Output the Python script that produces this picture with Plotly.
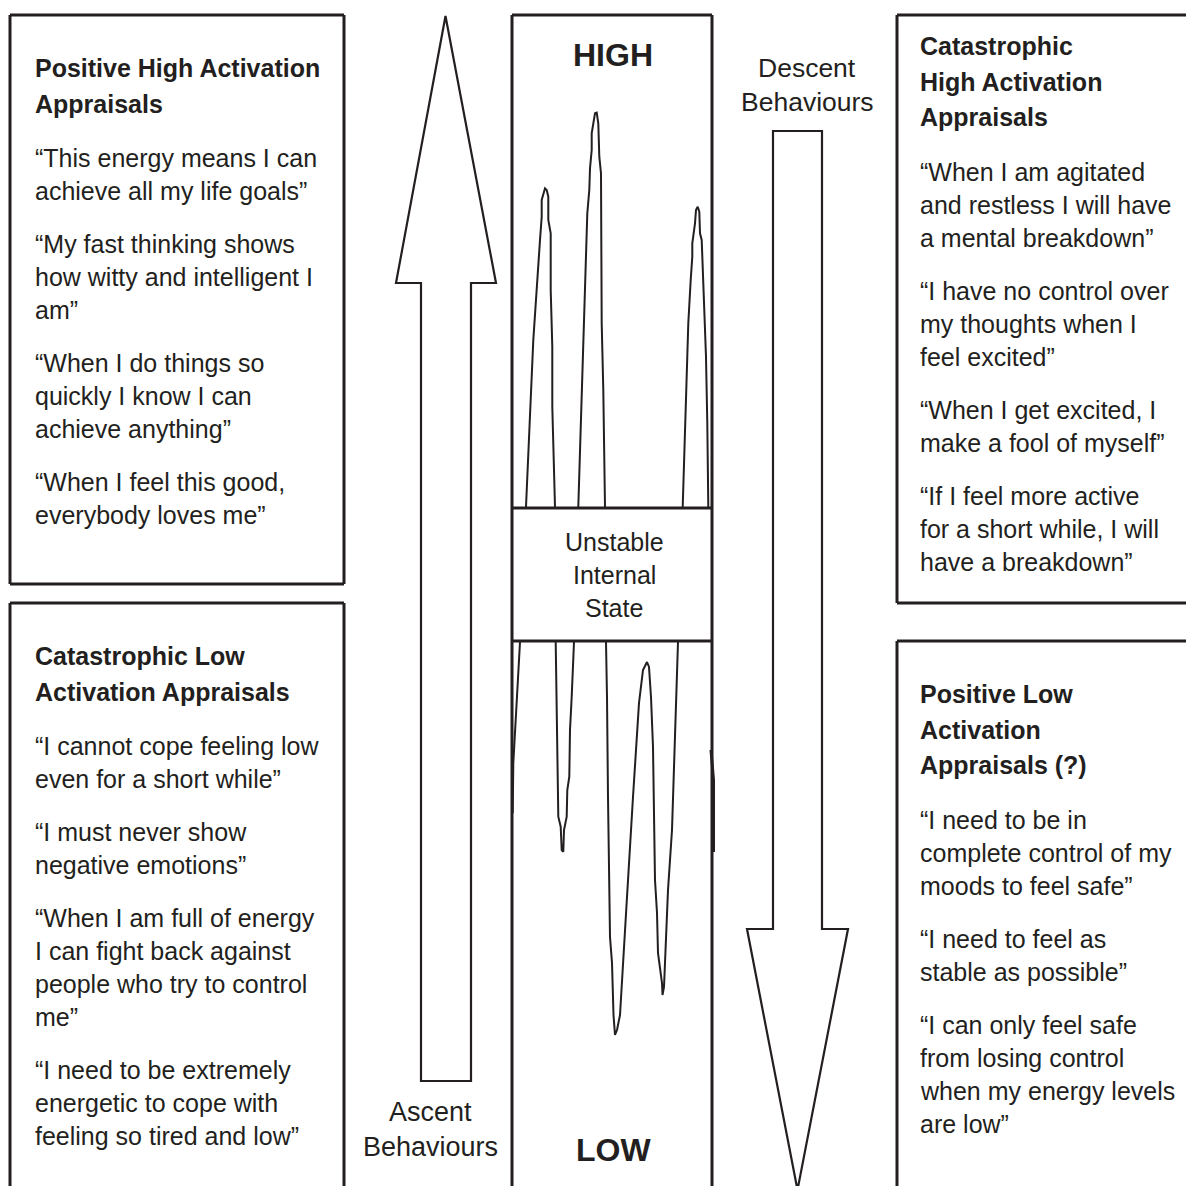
import plotly.graph_objects as go

# ---------------- DATA (text and traced curves) ----------------
left_top_heading = ["Positive High Activation", "Appraisals"]
left_top_quotes = [
    ["“This energy means I can", "achieve all my life goals”"],
    ["“My fast thinking shows", "how witty and intelligent I", "am”"],
    ["“When I do things so", "quickly I know I can", "achieve anything”"],
    ["“When I feel this good,", "everybody loves me”"],
]
left_bottom_heading = ["Catastrophic Low", "Activation Appraisals"]
left_bottom_quotes = [
    ["“I cannot cope feeling low", "even for a short while”"],
    ["“I must never show", "negative emotions”"],
    ["“When I am full of energy", "I can fight back against", "people who try to control", "me”"],
    ["“I need to be extremely", "energetic to cope with", "feeling so tired and low”"],
]
right_top_heading = ["Catastrophic", "High Activation", "Appraisals"]
right_top_quotes = [
    ["“When I am agitated", "and restless I will have", "a mental breakdown”"],
    ["“I have no control over", "my thoughts when I", "feel excited”"],
    ["“When I get excited, I", "make a fool of myself”"],
    ["“If I feel more active", "for a short while, I will", "have a breakdown”"],
]
right_bottom_heading = ["Positive Low", "Activation", "Appraisals (?)"]
right_bottom_quotes = [
    ["“I need to be in", "complete control of my", "moods to feel safe”"],
    ["“I need to feel as", "stable as possible”"],
    ["“I can only feel safe", "from losing control", "when my energy levels", "are low”"],
]
center_top_label = "HIGH"
center_bottom_label = "LOW"
center_mid_label = ["Unstable", "Internal", "State"]
ascent_label = ["Ascent", "Behaviours"]
descent_label = ["Descent", "Behaviours"]

# traced "unstable state" curves (pixel space of the diagram)
peak1_x = [526, 533.3, 540, 541.7, 541.7, 545, 546.7, 548.3, 548.3, 550.7, 550.7, 552.3, 552.3, 555]
peak1_y = [507, 340, 240, 216.7, 200, 188.3, 190, 196.7, 220, 233.3, 290, 346.7, 406.7, 507]
peak2_x = [578.3, 587.3, 589.3, 590, 591.7, 591.7, 595, 596.7, 598.3, 599, 599.3, 601, 601.7, 603.3, 605]
peak2_y = [507, 213.3, 190, 168.3, 150, 133.3, 113.3, 112.7, 123.3, 136.7, 156.7, 173.3, 323.3, 390, 507]
peak3_x = [682.7, 686.7, 688.3, 690.7, 692.3, 692.3, 695, 696, 697.7, 699.3, 700, 701.7, 703.3, 706, 707.3, 708.3]
peak3_y = [507, 390, 323.3, 280, 256.7, 243.3, 223.3, 210, 206.7, 211.7, 233.3, 240, 283.3, 356.7, 423.3, 507]
edge_x = [520, 513.3, 512.7]
edge_y = [642, 763.3, 813.3]
valley1_x = [555.7, 556.7, 558.3, 560.7, 561.7, 563.3, 564, 566.7, 567.3, 569.3, 570, 571.7, 574]
valley1_y = [642, 730, 816.7, 826.7, 850, 851.7, 830, 816.7, 790, 776.7, 730, 696.7, 642]
wave_x = [606, 607, 608, 610, 612, 613, 613.5, 615, 617, 620, 623, 627, 633, 639, 643, 647, 649, 651,
          653, 655, 657, 658, 662, 662.5, 664, 665, 667, 668, 672, 675, 678]
wave_y = [642, 697, 797, 937, 963, 1000, 1015, 1035, 1030, 1015, 960, 897, 797, 703, 670, 662, 667, 697,
          747, 880, 913, 953, 983, 995, 987, 963, 930, 890, 830, 730, 642]
right_edge_x = [711, 713.5, 713.5]
right_edge_y = [750, 780, 852]

# ---------------- STYLE / LAYOUT ----------------
W = H = 1186
INK = "#231f20"
FONT = "Liberation Sans, Arial, Helvetica, sans-serif"
BODY = 25
HEAD = 25

fig = go.Figure()

for xs, ys in [(peak1_x, peak1_y), (peak2_x, peak2_y), (peak3_x, peak3_y), (edge_x, edge_y),
               (valley1_x, valley1_y), (wave_x, wave_y)]:
    fig.add_trace(go.Scatter(x=xs, y=ys, mode="lines", line=dict(color=INK, width=2),
                             hoverinfo="skip", showlegend=False))
fig.add_trace(go.Scatter(x=right_edge_x, y=right_edge_y, mode="lines", line=dict(color=INK, width=3),
                         hoverinfo="skip", showlegend=False))

shapes = []
def seg(x0, y0, x1, y1, w=3):
    shapes.append(dict(type="line", x0=x0, y0=y0, x1=x1, y1=y1, line=dict(color=INK, width=w)))

# left top box
seg(10, 15, 344, 15); seg(10, 584, 344, 584); seg(10, 15, 10, 584); seg(344, 15, 344, 584)
# left bottom box (open at bottom)
seg(10, 603, 344, 603); seg(10, 603, 10, 1200); seg(344, 603, 344, 1200)
# center column
seg(512, 15, 712, 15); seg(512, 15, 512, 1200); seg(712, 15, 712, 1200)
seg(512, 508, 712, 508); seg(512, 641, 712, 641)
# right top box
seg(897, 15, 1200, 15); seg(897, 603, 1200, 603); seg(897, 15, 897, 603)
# right bottom box
seg(897, 641, 1200, 641); seg(897, 641, 897, 1200)

# up arrow
shapes.append(dict(type="path",
                   path="M 421,1081 L 421,283 L 396,283 L 445.5,16 L 496,283 L 471,283 L 471,1081 Z",
                   line=dict(color=INK, width=2.2), fillcolor="white"))
# down arrow
shapes.append(dict(type="path",
                   path="M 773,131 L 773,929 L 747,929 L 797.5,1190 L 848,929 L 822,929 L 822,131 Z",
                   line=dict(color=INK, width=2.2), fillcolor="white"))

annotations = []
def txt(s, x, y, size=BODY, bold=False, anchor="left"):
    annotations.append(dict(x=x, y=y, text=f"<b>{s}</b>" if bold else s, showarrow=False,
                            xanchor=anchor, yanchor="middle", align=anchor,
                            font=dict(family=FONT, size=size, color=INK)))

def block(x, y0, heading, quotes):
    y = y0
    for line in heading:
        txt(line, x, y, size=HEAD, bold=True)
        y += 35.7
    y += 54.5 - 35.7
    for quote in quotes:
        for line in quote:
            txt(line, x, y)
            y += 33
        y += 53 - 33

block(33, 68, left_top_heading, left_top_quotes)
block(33, 656, left_bottom_heading, left_bottom_quotes)
block(918, 46, right_top_heading, right_top_quotes)
block(918, 694, right_bottom_heading, right_bottom_quotes)

txt(center_top_label, 613, 55, size=32, bold=True, anchor="center")
txt(center_bottom_label, 613, 1150, size=32, bold=True, anchor="center")
for i, line in enumerate(center_mid_label):
    txt(line, 614, 542 + i * 33, size=25, anchor="center")
for i, line in enumerate(ascent_label):
    txt(line, 430, 1112 + i * 35, size=27, anchor="center")
for i, line in enumerate(descent_label):
    txt(line, 807, 68 + i * 34, size=26.5, anchor="center")

fig.update_layout(
    width=W, height=H, margin=dict(l=0, r=0, t=0, b=0),
    paper_bgcolor="white", plot_bgcolor="white",
    xaxis=dict(range=[0, W], visible=False, fixedrange=True),
    yaxis=dict(range=[H, 0], visible=False, fixedrange=True),
    shapes=shapes, annotations=annotations, showlegend=False,
)
fig.write_html("out.html", config={"displayModeBar": False},
               post_script="document.body.style.margin='0px';document.body.style.overflow='hidden';")
